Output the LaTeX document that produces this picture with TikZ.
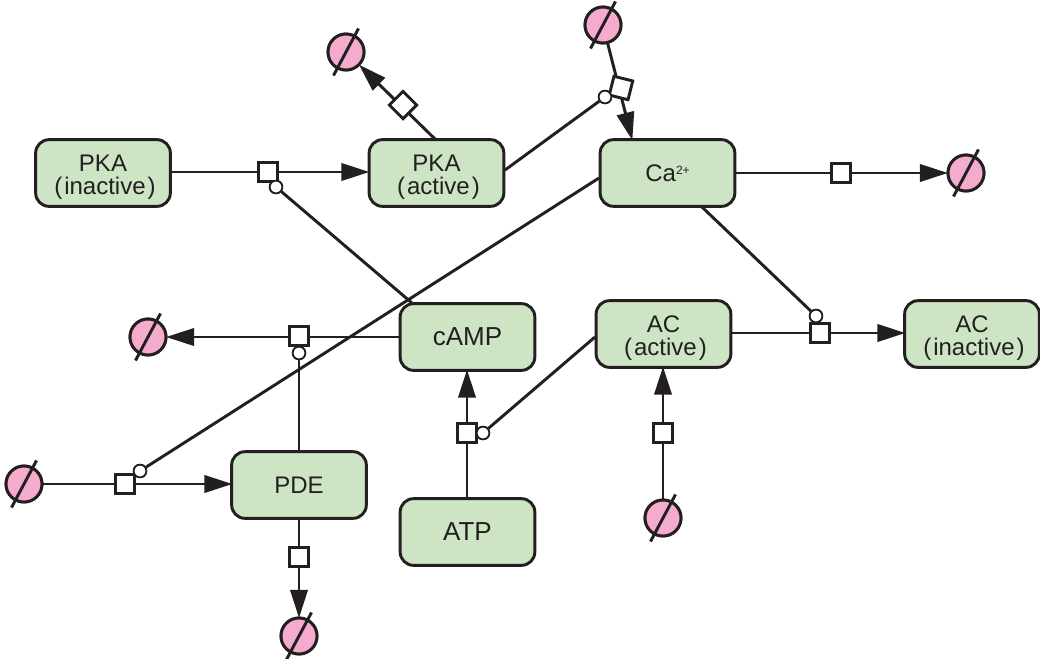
\documentclass[tikz,border=0pt]{standalone}
\usepackage{fontspec}
\setmainfont{Liberation Sans}
\usetikzlibrary{arrows.meta,calc}
\definecolor{boxgreen}{HTML}{CDE5C4}
\definecolor{sinkpink}{HTML}{F4ABCE}
\definecolor{ink}{HTML}{231F20}
\newcommand{\lo}[1]{\hspace{3pt}(\hspace{1.5pt}#1\hspace{1.5pt})\hspace{3pt}}
\newcommand{\dn}{\rule{0pt}{19pt}}
\tikzset{
  species/.style={draw=ink,fill=boxgreen,line width=2.2pt,rounded corners=10pt,minimum width=101pt,minimum height=50pt,inner sep=0pt,align=center,text=ink,font=\fontsize{18}{17}\selectfont},
  bigtext/.style={font=\fontsize{19.5}{17}\selectfont},
  sink/.style={circle,draw=ink,fill=sinkpink,line width=2.2pt,minimum size=27pt,inner sep=0pt},
  slash/.style={draw=ink,line width=2.2pt},
  proc/.style={draw=ink,fill=white,line width=2.2pt,minimum size=14.5pt,inner sep=0pt},
  cat/.style={circle,draw=ink,fill=white,line width=1.3pt,minimum size=9.5pt,inner sep=0pt},
  flow/.style={draw=ink,line width=2.2pt,-{Triangle[length=21pt,width=13pt]},shorten >=-1pt},
  mod/.style={draw=ink,line width=2.2pt}
}
\begin{document}
\begin{tikzpicture}[x=0.75pt,y=-0.75pt]
\useasboundingbox (0,0) rectangle (1040,658);
\coordinate (pkaIc) at (103,173);
\coordinate (pkaAc) at (436.5,173);
\coordinate (cac) at (667.5,173);
\coordinate (campc) at (467.5,337);
\coordinate (acAc) at (663.5,334);
\coordinate (acIc) at (972,334);
\coordinate (pdec) at (299,485);
\coordinate (atpc) at (467.5,532);
% sinks
\node[sink] (s1) at (346,52) {};
\node[sink] (s2) at (603,25) {};
\node[sink] (s3) at (966,173) {};
\node[sink] (s4) at (148,337) {};
\node[sink] (s5) at (24,484) {};
\node[sink] (s6) at (299,636) {};
\node[sink] (s7) at (663,518) {};
% connector ends on box borders
\coordinate (pkaIe) at (171,172);
\coordinate (pkaAw) at (368,172);
\coordinate (pkaAn) at (435,139);
\coordinate (pkaAe) at (505,170);
\coordinate (can) at (632,139);
\coordinate (caw) at (599,178);
\coordinate (cae) at (736,173);
\coordinate (cas) at (702,207);
\coordinate (campn) at (412,303);
\coordinate (campw) at (399,337);
\coordinate (camps) at (467,371);
\coordinate (acAw) at (595,337);
\coordinate (acAe) at (732,333);
\coordinate (acAs) at (663,368);
\coordinate (acIw) at (904,333);
\coordinate (pdew) at (231,484);
\coordinate (pden) at (299,451);
\coordinate (pdes) at (299,519);
\coordinate (atpn) at (467,498);
% process glyph positions
\coordinate (p1) at (268,172);
\coordinate (p2) at (621,88);
\coordinate (p3) at (841,173);
\coordinate (p4) at (403,105);
\coordinate (p5) at (299,336);
\coordinate (p6) at (125,484);
\coordinate (p7) at (467,433);
\coordinate (p8) at (663,433);
\coordinate (p9) at (820,333);
\coordinate (p10) at (299,557);
% modifier circles
\node[cat] (c1) at (276,187) {};
\node[cat] (c2) at (605,97) {};
\node[cat] (c3) at (816,316) {};
\node[cat] (c4) at (299,353) {};
\node[cat] (c5) at (140,471) {};
\node[cat] (c6) at (483,433) {};
% flows
\draw[flow] (pkaIe) -- (pkaAw);
\draw[flow] (pkaAn) -- (s1);
\draw[flow] (s2) -- (can);
\draw[flow] (cae) -- (s3);
\draw[flow] (campw) -- (s4);
\draw[flow] (s5) -- (pdew);
\draw[flow] (pdes) -- (s6);
\draw[flow] (atpn) -- (camps);
\draw[flow] (s7) -- (acAs);
\draw[flow] (acAe) -- (acIw);
% modifiers
\draw[mod] (campn) -- (c1);
\draw[mod] (pkaAe) -- (c2);
\draw[mod] (cas) -- (c3);
\draw[mod] (pden) -- (c4);
\draw[mod] (caw) -- (c5);
\draw[mod] (acAw) -- (c6);
% process glyphs
\node[proc] (g1) at (p1) {};
\node[proc,rotate=-14] (g2) at (p2) {};
\node[proc] (g3) at (p3) {};
\node[proc,rotate=45] (g4) at (p4) {};
\node[proc] (g5) at (p5) {};
\node[proc] (g6) at (p6) {};
\node[proc] (g7) at (p7) {};
\node[proc] (g8) at (p8) {};
\node[proc] (g9) at (p9) {};
\node[proc] (g10) at (p10) {};
% circles above glyphs
\node[cat] at (c1) {};
\node[cat] at (c2) {};
\node[cat] at (c3) {};
\node[cat] at (c4) {};
\node[cat] at (c5) {};
\node[cat] at (c6) {};
% redraw sinks above arrows, slashes
\foreach \s in {s1,s2,s3,s4,s5,s6,s7}{
  \node[sink] at (\s) {};
  \draw[slash] ($(\s)+(12.5,-23.5)$) -- ($(\s)+(-12.5,23.5)$);
}
% species
\node[species] (pkaI) at (pkaIc) {\dn PKA\\\lo{inactive}};
\node[species] (pkaA) at (pkaAc) {\dn PKA\\\lo{active}};
\node[species] (ca) at (cac) {Ca\raisebox{5pt}{\fontsize{9}{9}\selectfont 2+}};
\node[species,bigtext] (camp) at (campc) {cAMP};
\node[species] (acA) at (acAc) {\dn AC\\\lo{active}};
\node[species] (acI) at (acIc) {\dn AC\\\lo{inactive}};
\node[species] (pde) at (pdec) {PDE};
\node[species,bigtext] (atp) at (atpc) {ATP};
\end{tikzpicture}
\end{document}
